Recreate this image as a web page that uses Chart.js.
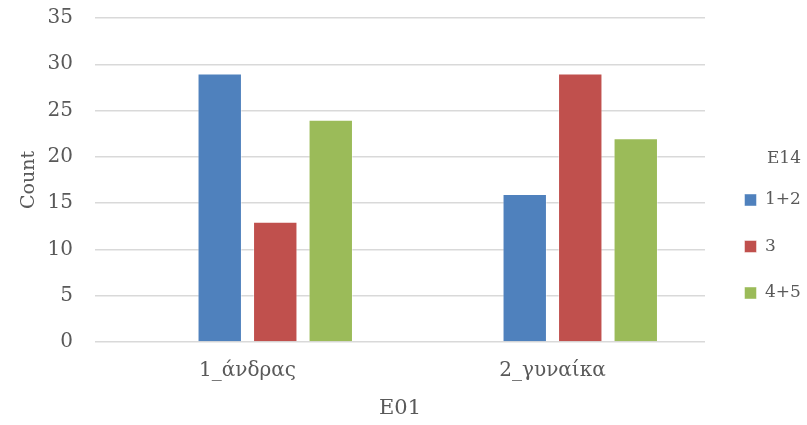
<!DOCTYPE html>
<html><head><meta charset="utf-8">
<script src="https://cdn.jsdelivr.net/npm/chart.js@4"></script>
<style>html,body{margin:0;padding:0;background:#fff}#w{width:807px;height:425px}</style>
</head><body><div id="w"><canvas id="c" width="807" height="425"></canvas></div>
<script>
const categories = ["1_άνδρας", "2_γυναίκα"];
const seriesNames = ["", "1+2", "3", "4+5"];
const seriesEmpty = [null, null];
const series12 = [29, 16];
const series3 = [13, 29];
const series45 = [24, 22];
const yTicks = [0, 5, 10, 15, 20, 25, 30, 35];

const FONT = "'DejaVu Serif', serif";
const txt = '#595959';
const colors = ['#ffffff', '#4f81bd', '#c0504d', '#9bbb59'];
const allData = [seriesEmpty, series12, series3, series45];

new Chart(document.getElementById('c'), {
  type: 'bar',
  data: {
    labels: categories,
    datasets: allData.map((d, i) => ({
      label: seriesNames[i],
      data: d,
      backgroundColor: colors[i],
      borderColor: 'rgba(255,255,255,0.45)',
      borderWidth: 1,
      barPercentage: 0.8,
      categoryPercentage: 0.728,
      yAxisID: 'y'
    }))
  },
  options: {
    responsive: false,
    animation: false,
    layout: { padding: { top: 18, right: 6, bottom: 0, left: 8 } },
    plugins: {
      tooltip: { enabled: false },
      legend: {
        position: 'right',
        align: 'center',
        maxWidth: 86,
        title: { display: true, text: 'E14', position: 'end', color: txt, font: { family: FONT, size: 17 }, padding: { top: 38.5, bottom: -8.9 } },
        labels: {
          filter: (it) => it.text !== '',
          color: txt,
          font: { family: FONT, size: 17 },
          boxWidth: 12, boxHeight: 12,
          padding: 29.5
        }
      }
    },
    scales: {
      x: {
        grid: { display: false, drawTicks: false },
        border: { display: false },
        afterFit: (s) => { s.height = 83; s.paddingLeft = 0; s.paddingRight = 0; },
        ticks: { color: txt, font: { family: FONT, size: 20 }, padding: 17 },
        title: { display: true, text: 'E01', color: txt, font: { family: FONT, size: 21 }, padding: { top: 0, bottom: 4 } }
      },
      y: {
        min: 0, max: 35,
        afterBuildTicks: (s) => { s.ticks = yTicks.map(v => ({ value: v })); },
        afterFit: (s) => { s.width = 87; s.paddingTop = 0; s.paddingBottom = 0; },
        grid: { color: '#d9d9d9', lineWidth: 1.5, drawTicks: false },
        border: { display: false },
        ticks: { color: txt, font: { family: FONT, size: 20 }, padding: 22 },
        title: { display: true, text: 'Count', color: txt, font: { family: FONT, size: 19 }, padding: { top: 9.5, bottom: 0 } }
      },
      yR: {
        position: 'right',
        display: true,
        grid: { display: false, drawTicks: false },
        border: { display: false },
        ticks: { display: false },
        afterFit: (s) => { s.width = 10; }
      }
    }
  }
});
</script></body></html>
